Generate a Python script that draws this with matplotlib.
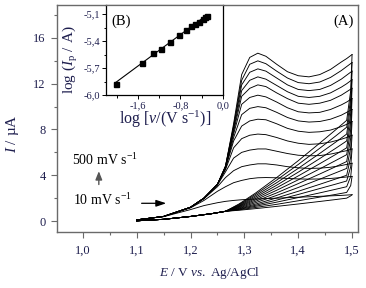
import numpy as np
import matplotlib
matplotlib.use("Agg")
import matplotlib.pyplot as plt
from matplotlib.ticker import MultipleLocator, FuncFormatter

plt.rcParams['font.family'] = ['Liberation Serif', 'DejaVu Serif']
plt.rcParams['mathtext.fontset'] = 'custom'
plt.rcParams['mathtext.rm'] = 'Liberation Serif'
plt.rcParams['mathtext.it'] = 'Liberation Serif:italic'

# ---------------- data ----------------
scan_rates = [10, 25, 50, 75, 100, 150, 200, 250, 300, 350, 400, 450, 500]  # mV/s

E_fwd = [1.100, 1.150, 1.200, 1.225, 1.250, 1.265, 1.280, 1.295, 1.310, 1.325,
         1.340, 1.360, 1.380, 1.400, 1.420, 1.440, 1.460, 1.480, 1.490, 1.500]

I_fwd_10  = [0.10, 0.38, 1.00, 1.35, 1.60, 1.72, 1.80, 1.86, 1.90, 1.93, 1.96, 2.00, 2.04, 2.08, 2.12, 2.16, 2.20, 2.24, 2.27, 2.30]
I_fwd_25  = [0.10, 0.40, 1.15, 1.80, 2.60, 3.00, 3.35, 3.55, 3.70, 3.78, 3.80, 3.78, 3.72, 3.68, 3.66, 3.68, 3.72, 3.80, 3.85, 3.90]
I_fwd_50  = [0.10, 0.40, 1.20, 1.95, 3.00, 3.80, 4.40, 4.75, 4.90, 5.00, 5.00, 4.90, 4.75, 4.65, 4.60, 4.62, 4.70, 4.85, 4.95, 5.05]
I_fwd_75  = [0.10, 0.40, 1.20, 2.00, 3.15, 4.30, 5.50, 6.00, 6.20, 6.30, 6.30, 6.10, 5.90, 5.75, 5.70, 5.72, 5.85, 6.05, 6.15, 6.30]
I_fwd_100 = [0.10, 0.40, 1.20, 2.00, 3.20, 4.50, 6.40, 7.20, 7.50, 7.60, 7.55, 7.30, 7.00, 6.80, 6.70, 6.75, 6.90, 7.15, 7.30, 7.50]
I_fwd_150 = [0.10, 0.40, 1.20, 2.00, 3.20, 4.60, 7.00, 8.30, 8.75, 8.90, 8.85, 8.50, 8.10, 7.85, 7.75, 7.80, 7.95, 8.25, 8.45, 8.70]
I_fwd_200 = [0.10, 0.40, 1.20, 2.00, 3.20, 4.65, 7.30, 9.30, 9.85, 10.0, 9.90, 9.50, 9.05, 8.75, 8.65, 8.70, 8.90, 9.25, 9.50, 9.75]
I_fwd_250 = [0.10, 0.40, 1.20, 2.00, 3.20, 4.70, 7.60, 10.2, 10.8, 11.0, 10.85, 10.4, 9.90, 9.55, 9.45, 9.50, 9.75, 10.15, 10.4, 10.7]
I_fwd_300 = [0.10, 0.40, 1.20, 2.00, 3.20, 4.70, 7.80, 10.9, 11.6, 11.9, 11.75, 11.2, 10.7, 10.3, 10.2, 10.3, 10.55, 11.0, 11.3, 11.6]
I_fwd_350 = [0.10, 0.40, 1.20, 2.00, 3.20, 4.75, 8.00, 11.4, 12.3, 12.6, 12.4, 11.85, 11.3, 10.9, 10.8, 10.9, 11.2, 11.7, 12.0, 12.35]
I_fwd_400 = [0.10, 0.40, 1.20, 2.00, 3.20, 4.80, 8.20, 11.9, 13.0, 13.3, 13.1, 12.5, 11.9, 11.5, 11.4, 11.5, 11.85, 12.4, 12.75, 13.1]
I_fwd_450 = [0.10, 0.40, 1.20, 2.00, 3.20, 4.80, 8.30, 12.3, 13.7, 14.0, 13.75, 13.1, 12.5, 12.1, 12.0, 12.15, 12.55, 13.15, 13.5, 13.85]
I_fwd_500 = [0.10, 0.40, 1.20, 2.00, 3.20, 4.80, 8.50, 12.8, 14.3, 14.67, 14.4, 13.7, 13.05, 12.7, 12.6, 12.8, 13.25, 13.9, 14.2, 14.55]

E_rev = [1.500, 1.4975, 1.490, 1.470, 1.440, 1.400, 1.360, 1.320, 1.290, 1.265, 1.240, 1.200, 1.150, 1.100]

I_rev_10  = [2.30, 2.20, 2.00, 1.88, 1.71, 1.49, 1.28, 1.08, 0.94, 0.85, 0.65, 0.40, 0.15, 0.02]
I_rev_25  = [3.90, 3.10, 2.50, 2.33, 2.09, 1.77, 1.46, 1.18, 0.98, 0.85, 0.65, 0.40, 0.15, 0.02]
I_rev_50  = [5.05, 3.90, 3.00, 2.78, 2.46, 2.05, 1.65, 1.28, 1.02, 0.85, 0.65, 0.40, 0.15, 0.02]
I_rev_75  = [6.30, 4.75, 3.50, 3.23, 2.84, 2.32, 1.83, 1.37, 1.06, 0.85, 0.65, 0.40, 0.15, 0.02]
I_rev_100 = [7.50, 5.60, 4.00, 3.68, 3.21, 2.60, 2.02, 1.47, 1.10, 0.85, 0.65, 0.40, 0.15, 0.02]
I_rev_150 = [8.70, 6.45, 4.60, 4.22, 3.66, 2.93, 2.24, 1.59, 1.15, 0.85, 0.65, 0.40, 0.15, 0.02]
I_rev_200 = [9.75, 7.25, 5.20, 4.76, 4.11, 3.27, 2.46, 1.71, 1.20, 0.85, 0.65, 0.40, 0.15, 0.02]
I_rev_250 = [10.7, 8.00, 5.80, 5.30, 4.56, 3.60, 2.69, 1.83, 1.25, 0.85, 0.65, 0.40, 0.15, 0.02]
I_rev_300 = [11.6, 8.70, 6.40, 5.83, 5.01, 3.94, 2.91, 1.95, 1.29, 0.85, 0.65, 0.40, 0.15, 0.02]
I_rev_350 = [12.35, 9.40, 7.00, 6.37, 5.46, 4.27, 3.13, 2.07, 1.34, 0.85, 0.65, 0.40, 0.15, 0.02]
I_rev_400 = [13.1, 10.1, 7.60, 6.91, 5.91, 4.60, 3.35, 2.19, 1.39, 0.85, 0.65, 0.40, 0.15, 0.02]
I_rev_450 = [13.85, 10.7, 8.20, 7.45, 6.36, 4.94, 3.58, 2.31, 1.44, 0.85, 0.65, 0.40, 0.15, 0.02]
I_rev_500 = [14.55, 11.4, 8.80, 7.99, 6.81, 5.27, 3.80, 2.42, 1.49, 0.85, 0.65, 0.40, 0.15, 0.02]

forward = [I_fwd_10, I_fwd_25, I_fwd_50, I_fwd_75, I_fwd_100, I_fwd_150, I_fwd_200,
           I_fwd_250, I_fwd_300, I_fwd_350, I_fwd_400, I_fwd_450, I_fwd_500]
reverse = [I_rev_10, I_rev_25, I_rev_50, I_rev_75, I_rev_100, I_rev_150, I_rev_200,
           I_rev_250, I_rev_300, I_rev_350, I_rev_400, I_rev_450, I_rev_500]

# inset data (B)
log_v = [-2.01, -1.52, -1.32, -1.17, -1.00, -0.83, -0.70, -0.60, -0.53, -0.45, -0.38, -0.34, -0.30]
log_Ip = [-5.875, -5.647, -5.533, -5.49, -5.41, -5.33, -5.28, -5.23, -5.21, -5.19, -5.15, -5.13, -5.12]

main_xticks = [1.0, 1.1, 1.2, 1.3, 1.4, 1.5]
main_yticks = [0, 4, 8, 12, 16]
inset_xticks = [-1.6, -0.8, 0.0]
inset_yticks = [-6.0, -5.7, -5.4, -5.1]

# ---------------- figure ----------------
navy = '#1e1e4e'
frame_gray = '#6a6a6a'
fig = plt.figure(figsize=(3.66, 2.88), dpi=100)
ax = fig.add_axes([0.1557, 0.1944, 0.8224, 0.7882])

for fw, rv in zip(forward, reverse):
    ax.plot(E_fwd, fw, color='black', lw=0.65)
    ax.plot(E_rev, rv, color='black', lw=0.65)

ax.set_xlim(0.952, 1.511)
ax.set_ylim(-0.96, 18.88)
ax.set_xticks(main_xticks)
ax.set_yticks(main_yticks)
ax.xaxis.set_minor_locator(MultipleLocator(0.05))
ax.yaxis.set_minor_locator(MultipleLocator(2))
comma = FuncFormatter(lambda v, p: (f"{v:.1f}").replace('.', ','))
ax.xaxis.set_major_formatter(comma)
ax.yaxis.set_major_formatter(FuncFormatter(lambda v, p: f"{v:.0f}"))
ax.tick_params(which='major', direction='out', length=4, width=0.8, color=frame_gray,
               labelsize=9, labelcolor=navy, pad=4)
ax.tick_params(which='minor', direction='out', length=2.5, width=0.8, color=frame_gray)
ax.tick_params(axis='x', which='major', pad=5)
for s in ax.spines.values():
    s.set_color(frame_gray)
    s.set_linewidth(1.0)

# annotations
ax.text(1.485, 17.48, '(A)', fontsize=10.5, ha='center', va='center', color='black')
ax.text(0.9796, 4.94, r'500 mV s$^{-1}$', fontsize=10, ha='left', va='baseline')
ax.text(0.981, 1.40, r'10 mV s$^{-1}$', fontsize=10, ha='left', va='baseline')
ax.annotate('', xy=(1.0297, 4.6), xytext=(1.0297, 2.95),
            arrowprops=dict(arrowstyle='-|>,head_length=0.5,head_width=0.2', color='#555555', lw=1.0))
ax.annotate('', xy=(1.160, 1.55), xytext=(1.104, 1.55),
            arrowprops=dict(arrowstyle='-|>,head_length=0.6,head_width=0.2', color='black', lw=0.9))

fig.text(0.574, 0.052, r'$E$ / V $\mathit{vs.}$ Ag/AgCl', fontsize=9.5, ha='center', va='center', color=navy)
fig.text(0.035, 0.535, r'$I$ / µA', fontsize=11, ha='center', va='center', rotation=90, color=navy)

# ---------------- inset ----------------
axin = fig.add_axes([0.2896, 0.670, 0.3197, 0.3125])
slope, intercept = np.polyfit(log_v, log_Ip, 1)
xl = np.array([log_v[0], log_v[-1]])
axin.plot(xl, slope * xl + intercept, color='black', lw=0.8)
axin.plot(log_v, log_Ip, 's', color='black', ms=3.6)
axin.set_xlim(-2.2, 0.0)
axin.set_ylim(-6.0, -5.0)
axin.set_xticks(inset_xticks)
axin.set_yticks(inset_yticks)
axin.xaxis.set_minor_locator(MultipleLocator(0.4))
axin.yaxis.set_minor_locator(MultipleLocator(0.15))
fmt_in = FuncFormatter(lambda v, p: ("0,0" if abs(v) < 1e-9 else f"{v:.1f}".replace('.', ',')))
axin.xaxis.set_major_formatter(fmt_in)
axin.yaxis.set_major_formatter(fmt_in)
axin.tick_params(which='major', direction='out', length=3, width=0.7, labelsize=7.5,
                 labelcolor=navy, pad=1.5)
axin.tick_params(which='minor', direction='out', length=1.8, width=0.7)
for s in axin.spines.values():
    s.set_color('black')
    s.set_linewidth(0.9)
axin.spines['top'].set_color(frame_gray)
axin.text(-1.918, -5.18, '(B)', fontsize=10.5, ha='center', va='center')
fig.text(0.193, 0.792, r'log ($I_{\mathrm{p}}$ / A)', fontsize=11, ha='center', va='center', rotation=90, color=navy)
fig.text(0.451, 0.585, r'log [$\nu$/(V s$^{-1}$)]', fontsize=11.5, ha='center', va='center', color=navy)

fig.savefig('out.png', dpi=100)
